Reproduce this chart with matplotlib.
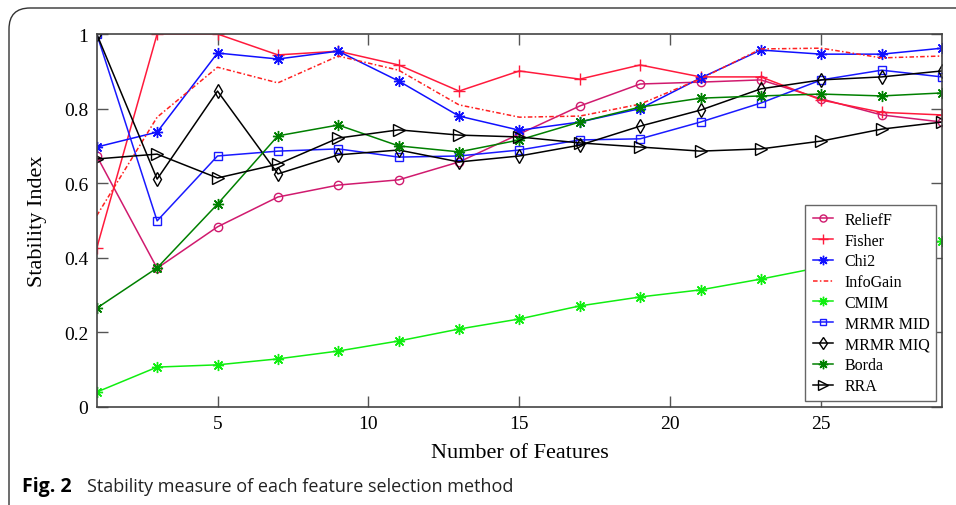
import matplotlib
matplotlib.use("Agg")
import matplotlib.pyplot as plt
from matplotlib.patches import FancyBboxPatch

# number of selected features
n_features = [1, 3, 5, 7, 9, 11, 13, 15, 17, 19, 21, 23, 25, 27, 29]

relieff = [0.673, 0.372, 0.483, 0.563, 0.595, 0.609, 0.657, 0.732, 0.807, 0.866,
           0.871, 0.877, 0.826, 0.783, 0.764]
fisher = [0.426, 1.0, 1.0, 0.944, 0.954, 0.917, 0.847, 0.901, 0.879, 0.917,
          0.885, 0.885, 0.823, 0.790, 0.783]
chi2 = [0.697, 0.737, 0.949, 0.933, 0.954, 0.874, 0.780, 0.742, 0.764, 0.800,
        0.882, 0.957, 0.946, 0.946, 0.962]
infogain = [0.513, 0.777, 0.911, 0.869, 0.941, 0.903, 0.810, 0.777, 0.780, 0.812,
            0.880, 0.960, 0.962, 0.936, 0.941]
cmim = [0.040, 0.107, 0.113, 0.129, 0.150, 0.177, 0.209, 0.236, 0.271, 0.295,
        0.314, 0.343, 0.375, 0.410, 0.445]
mrmr_mid = [1.0, 0.499, 0.673, 0.686, 0.692, 0.670, 0.673, 0.689, 0.716, 0.719,
            0.764, 0.815, 0.877, 0.903, 0.885]
mrmr_miq = [1.0, 0.611, 0.847, 0.625, 0.676, 0.689, 0.657, 0.673, 0.702, 0.753,
            0.796, 0.853, 0.877, 0.885, 0.901]
borda = [0.265, 0.373, 0.544, 0.727, 0.756, 0.700, 0.684, 0.716, 0.764, 0.804,
         0.828, 0.834, 0.839, 0.834, 0.842]
rra = [0.665, 0.678, 0.614, 0.651, 0.721, 0.743, 0.729, 0.724, 0.708, 0.697,
       0.686, 0.692, 0.713, 0.745, 0.764]

y_ticks = [0, 0.2, 0.4, 0.6, 0.8, 1]
y_tick_labels = ["0", "0.2", "0.4", "0.6", "0.8", "1"]
x_ticks = [5, 10, 15, 20, 25]

ASTER = (8, 2, 0)  # matlab-ish asterisk

series = [
    ("ReliefF", relieff, dict(color="#d01a6e", marker="o", mfc="none", ms=6)),
    ("Fisher", fisher, dict(color="#ff1a3c", marker="+", ms=9)),
    ("Chi2", chi2, dict(color="#1010ff", marker=ASTER, ms=8)),
    ("InfoGain", infogain, dict(color="#ff2020", linestyle=(0, (3, 1.5, 1, 1.5)))),
    ("CMIM", cmim, dict(color="#10ee10", marker=ASTER, ms=8)),
    ("MRMR MID", mrmr_mid, dict(color="#1a1aff", marker="s", mfc="none", ms=5.5)),
    ("MRMR MIQ", mrmr_miq, dict(color="black", marker="d", mfc="none", ms=7)),
    ("Borda", borda, dict(color="#008000", marker=ASTER, ms=8)),
    ("RRA", rra, dict(color="black", marker=">", mfc="none", ms=8)),
]

fig = plt.figure(figsize=(9.56, 5.06), dpi=100)
ax = fig.add_axes([0.1012, 0.1937, 0.8842, 0.7371])

for name, vals, style in series:
    ax.plot(n_features, vals, label=name, lw=1.1, mew=1.0, **style)

ax.set_xlim(1, 29)
ax.set_ylim(0, 1)
ax.set_xticks(x_ticks)
ax.set_yticks(y_ticks)
ax.set_yticklabels(y_tick_labels)

serif = "Liberation Serif"
for lbl in ax.get_xticklabels() + ax.get_yticklabels():
    lbl.set_fontfamily(serif)
    lbl.set_fontsize(14)
ax.tick_params(direction="in", top=True, right=True, length=8, width=1,
               color="#555555", pad=6)
for sp in ax.spines.values():
    sp.set_color("#444444")
    sp.set_linewidth(1.2)

ax.set_xlabel("Number of Features", family=serif, fontsize=16, labelpad=8)
ax.set_ylabel("Stability Index", family=serif, fontsize=16, labelpad=12)

leg = ax.legend(loc="lower right", prop=dict(family=serif, size=11.5),
                fancybox=False, edgecolor="#666666", framealpha=1,
                handlelength=1.3, handletextpad=0.7, labelspacing=0.3,
                borderaxespad=0.35, borderpad=0.45, markerscale=0.85)
leg.get_frame().set_linewidth(1.0)

# frame around the figure panel (open to the right and bottom)
frame = FancyBboxPatch((9 / 956, -30 / 506), 1.1, (506 - 9 + 30) / 506,
                       boxstyle="round,pad=0,rounding_size=0.022",
                       transform=fig.transFigure, fill=False,
                       edgecolor="#333333", lw=1.0, mutation_aspect=956 / 506)
fig.patches.append(frame)

fig.text(22 / 956, 1 - 487 / 506, "Fig. 2", family="Open Sans", weight="bold",
         fontsize=14, va="center", ha="left")
fig.text(87 / 956, 1 - 487 / 506, "Stability measure of each feature selection method",
         family="Open Sans", fontsize=13, va="center", ha="left", color="#222222")

fig.savefig("out.png", dpi=100)
